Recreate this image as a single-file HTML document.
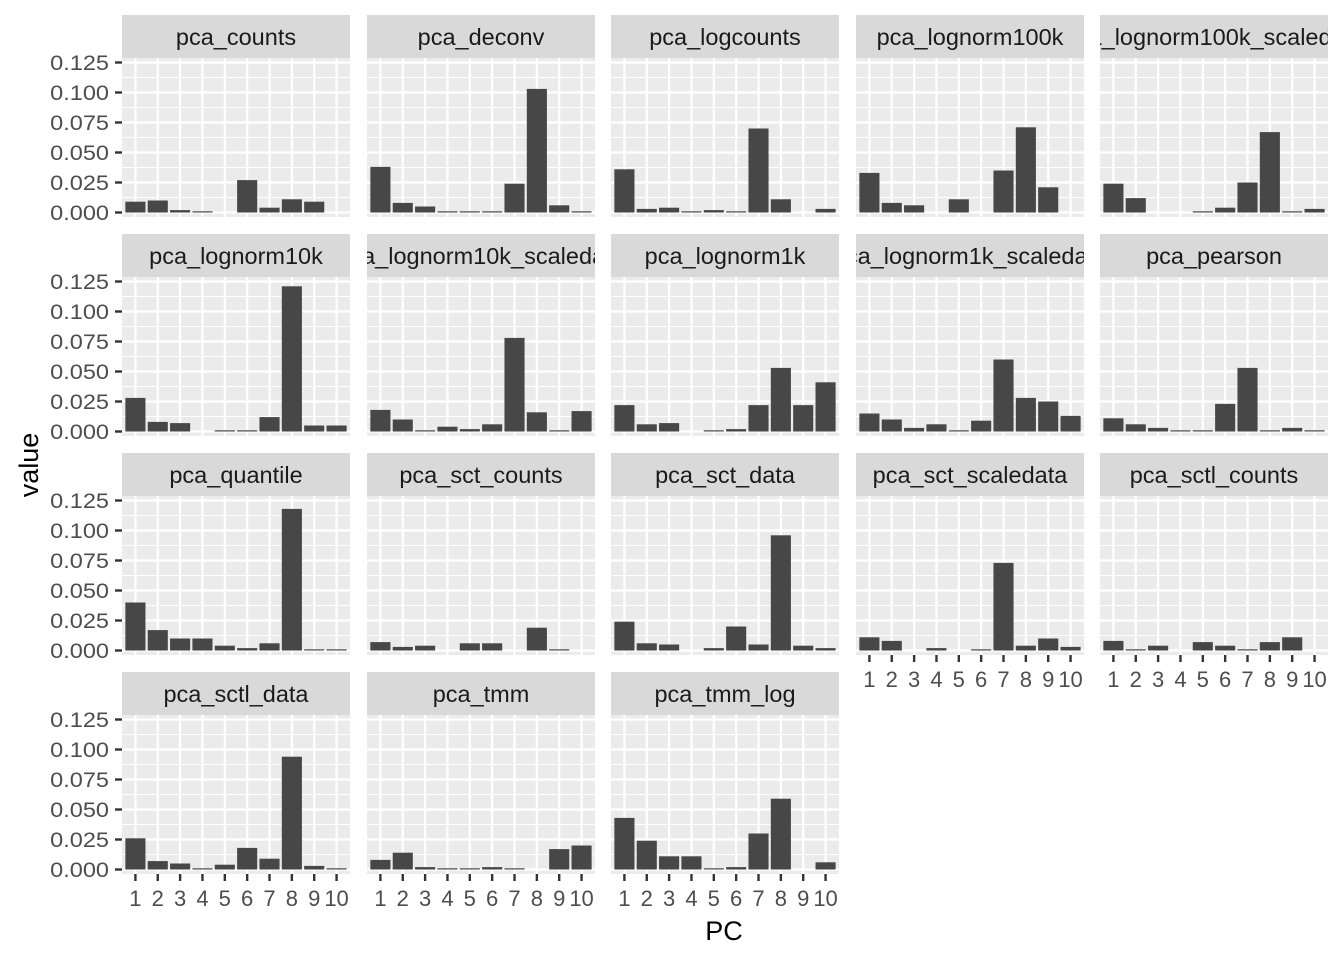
<!DOCTYPE html>
<html><head><meta charset="utf-8"><style>body{margin:0;background:#fff}svg{display:block}</style></head>
<body>
<svg id="s" width="1344" height="960" xmlns="http://www.w3.org/2000/svg" font-family="Liberation Sans, sans-serif"></svg>
<script>
const data=[
["pca_counts",[.009,.010,.002,.001,0,.027,.004,.011,.009,0]],
["pca_deconv",[.038,.008,.005,.001,.001,.001,.024,.103,.006,.001]],
["pca_logcounts",[.036,.003,.004,.001,.002,.001,.070,.011,0,.003]],
["pca_lognorm100k",[.033,.008,.006,0,.011,0,.035,.071,.021,0]],
["pca_lognorm100k_scaledata",[.024,.012,0,0,.001,.004,.025,.067,.001,.003]],
["pca_lognorm10k",[.028,.008,.007,0,.001,.001,.012,.121,.005,.005]],
["pca_lognorm10k_scaledata",[.018,.010,.001,.004,.002,.006,.078,.016,.001,.017]],
["pca_lognorm1k",[.022,.006,.007,0,.001,.002,.022,.053,.022,.041]],
["pca_lognorm1k_scaledata",[.015,.010,.003,.006,.001,.009,.060,.028,.025,.013]],
["pca_pearson",[.011,.006,.003,.001,.001,.023,.053,.001,.003,.001]],
["pca_quantile",[.040,.017,.010,.010,.004,.002,.006,.118,.001,.001]],
["pca_sct_counts",[.007,.003,.004,0,.006,.006,0,.019,.001,0]],
["pca_sct_data",[.024,.006,.005,0,.002,.020,.005,.096,.004,.002]],
["pca_sct_scaledata",[.011,.008,0,.002,0,.001,.073,.004,.010,.003]],
["pca_sctl_counts",[.008,.001,.004,0,.007,.004,.001,.007,.011,0]],
["pca_sctl_data",[.026,.007,.005,.001,.004,.018,.009,.094,.003,.001]],
["pca_tmm",[.008,.014,.002,.001,.001,.002,.001,0,.017,.020]],
["pca_tmm_log",[.043,.024,.011,.011,.001,.002,.030,.059,0,.006]]];
const colX=[122,367,611,856,1100],W=228,rowY=[15,234,453,672];
let h='';
const T=(x,y,s,sx,fill,anchor,txt)=>`<text transform="translate(${x},${y}) scale(${sx},1)" font-size="${s}" fill="${fill}" text-anchor="${anchor}">${txt}</text>`;
data.forEach((d,k)=>{
 const c=k%5,r=Math.floor(k/5),L=colX[c],Tp=rowY[r],P=Tp+43,B=P+159,z=P+154.5;
 const Y=v=>z-v*1200, X=i=>L+(i-0.4)*22.35;
 h+=`<clipPath id="c${k}"><rect x="${L}" y="${Tp}" width="${W}" height="43"/></clipPath>`;
 h+=`<rect x="${L}" y="${Tp}" width="${W}" height="43" fill="#D9D9D9"/>`;
 h+=`<g clip-path="url(#c${k})">`+T(L+W/2,Tp+30,23.5,1,'#1A1A1A','middle',d[0])+`</g>`;
 h+=`<rect x="${L}" y="${P}" width="${W}" height="159" fill="#EBEBEB"/>`;
 for(let j=0;j<5;j++){h+=`<line x1="${L}" x2="${L+W}" y1="${Y(0.0125+j*0.025)}" y2="${Y(0.0125+j*0.025)}" stroke="#fff" stroke-width="1"/>`;}
 for(let j=0;j<6;j++){h+=`<line x1="${L}" x2="${L+W}" y1="${Y(j*0.025)}" y2="${Y(j*0.025)}" stroke="#fff" stroke-width="2.2"/>`;}
 for(let i=1;i<=10;i++){h+=`<line x1="${X(i)}" x2="${X(i)}" y1="${P}" y2="${B}" stroke="#fff" stroke-width="2.2"/>`;}
 d[1].forEach((v,i)=>{if(v>0)h+=`<rect x="${X(i+1)-10.05}" y="${Y(v)}" width="20.1" height="${v*1200}" fill="#474747"/>`;});
 if(c==0){for(let j=0;j<6;j++){const y=Y(j*0.025);h+=`<line x1="115" x2="${L}" y1="${y}" y2="${y}" stroke="#333" stroke-width="2.4"/>`+T(109,y+7.5,21,1.12,'#4D4D4D','end',(j*0.025).toFixed(3));}}
 if(r==3||(r==2&&c>=3)){for(let i=1;i<=10;i++){h+=`<line x1="${X(i)}" x2="${X(i)}" y1="${B}" y2="${B+7}" stroke="#333" stroke-width="2.4"/>`+T(X(i),B+32,22,1,'#4D4D4D','middle',i);}}
});
h+=T(724,940,27,1,'#000','middle','PC');
h+=`<text transform="translate(38,465) rotate(-90)" font-size="27" text-anchor="middle">value</text>`;
document.getElementById('s').innerHTML=h;
</script>
</body></html>
